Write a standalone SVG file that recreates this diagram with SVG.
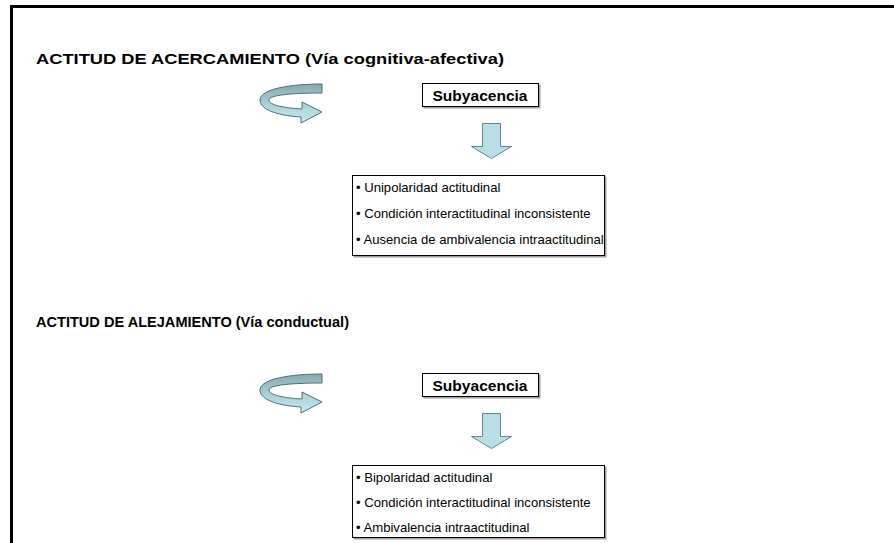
<svg xmlns="http://www.w3.org/2000/svg" width="894" height="543" viewBox="0 0 894 543">
<style>
.h{font-family:"Liberation Sans",Arial,sans-serif;font-weight:bold;font-size:14px;fill:#000}
.s{font-family:"Liberation Sans",Arial,sans-serif;font-weight:bold;font-size:15px;fill:#000;text-anchor:middle}
.t{font-family:"Liberation Sans",Arial,sans-serif;font-size:13.1px;fill:#000}
.box{fill:#fff;stroke:#000;stroke-width:1}
.darr{fill:#b9dfe6;stroke:#5f8790;stroke-width:1}
.carr{fill:url(#g);stroke:#4d6f76;stroke-width:1}
</style>
<defs>
<linearGradient id="g" x1="0" y1="0" x2="0" y2="1">
<stop offset="0" stop-color="#86a9ad"/>
<stop offset="0.5" stop-color="#a9cfd4"/>
<stop offset="1" stop-color="#c8eaee"/>
</linearGradient>
<filter id="sh" x="-5%" y="-5%" width="115%" height="130%">
<feDropShadow dx="1.5" dy="1.5" stdDeviation="0.4" flood-color="#888" flood-opacity="0.8"/>
</filter>
</defs>
<path d="M11.5,543 V6.5 H894" fill="none" stroke="#000" stroke-width="3"/>

<g id="header1"><text class="h" x="36" y="64" textLength="468" lengthAdjust="spacingAndGlyphs">ACTITUD DE ACERCAMIENTO (Vía cognitiva-afectiva)</text></g>
<g id="curve1"><path class="carr" d="M322,84 C290,84 260,89 260,100 C260,111 282,116 301,117 L301,123 L322,112 L302,102 L302,109 C284,108 269,105 269,100 C269,95 292,93 322,93 Z"/></g>
<g id="sub1"><rect class="box" x="422.5" y="83.5" width="116" height="23" filter="url(#sh)"/><text class="s" x="480" y="100.5" textLength="95" lengthAdjust="spacingAndGlyphs">Subyacencia</text></g>
<g id="list1"><rect class="box" x="352.5" y="175.5" width="252" height="80" filter="url(#sh)"/>
<text class="t" x="356" y="192">• Unipolaridad actitudinal</text>
<text class="t" x="356" y="218">• Condición interactitudinal inconsistente</text>
<text class="t" x="356" y="244">• Ausencia de ambivalencia intraactitudinal</text></g>

<g id="header2"><text class="h" x="36" y="327" textLength="313" lengthAdjust="spacingAndGlyphs">ACTITUD DE ALEJAMIENTO (Vía conductual)</text></g>
<g id="curve2"><path class="carr" d="M322,374 C290,374 260,379 260,390 C260,401 282,406 301,407 L301,413 L322,402 L302,392 L302,399 C284,398 269,395 269,390 C269,385 292,383 322,383 Z"/></g>
<g id="sub2"><rect class="box" x="422.5" y="373.5" width="116" height="23" filter="url(#sh)"/><text class="s" x="480" y="390.5" textLength="95" lengthAdjust="spacingAndGlyphs">Subyacencia</text></g>
<g id="list2"><rect class="box" x="352.5" y="465.5" width="252" height="72" filter="url(#sh)"/>
<text class="t" x="356" y="482">• Bipolaridad actitudinal</text>
<text class="t" x="356" y="507">• Condición interactitudinal inconsistente</text>
<text class="t" x="356" y="532">• Ambivalencia intraactitudinal</text></g>

<g id="connectors">
<path class="darr" d="M482.5,123.5 H500.5 V146.5 H511.5 L491.5,158.5 L471.5,146.5 H482.5 Z"/>
<path class="darr" d="M482.5,413.5 H500.5 V436.5 H511.5 L491.5,448.5 L471.5,436.5 H482.5 Z"/>
</g>
</svg>
